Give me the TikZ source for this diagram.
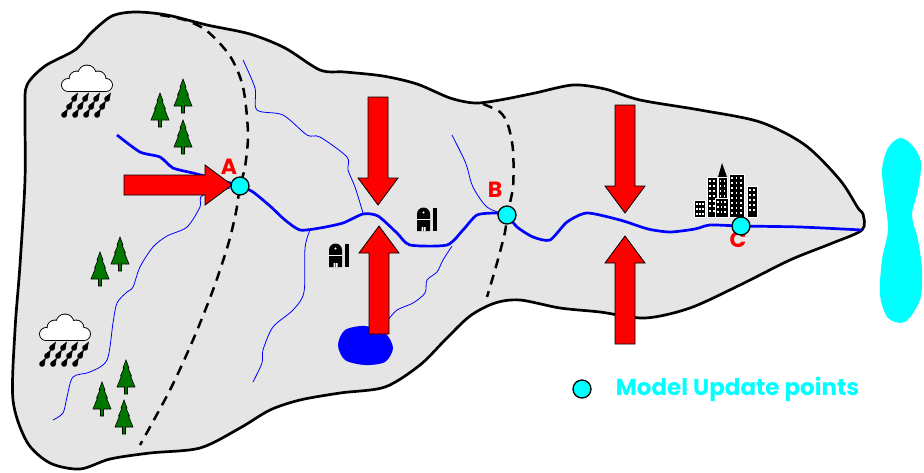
\documentclass[tikz,border=0pt]{standalone}
\usepackage{fontspec}
\newfontfamily\comicfont{Poppins}
\usetikzlibrary{positioning}
\definecolor{aqua}{RGB}{0,255,255}
\definecolor{pine}{RGB}{0,120,0}

\begin{document}
\begin{tikzpicture}[x=1pt,y=-1pt,
basin/.style={fill=gray!20, draw=black, line width=2.7pt},
divide/.style={draw=black, line width=2.5pt, dash pattern=on 10pt off 7pt},
river/.style={draw=blue, line width=2.7pt, line join=round},
creek/.style={draw=blue, line width=0.8pt},
update/.style={circle, draw=black, fill=aqua, line width=1.3pt, minimum size=18pt, inner sep=0pt},
ptname/.style={text=red, inner sep=0pt, font=\comicfont\bfseries\fontsize{22pt}{22pt}\selectfont},
inflow/.pic={\draw[fill=red, line width=0.8pt] (0,0) -- (-27,-20) -- (-27,-10) -- (-108,-10)
    -- (-108,10) -- (-27,10) -- (-27,20) -- cycle;},
tree/.pic={\draw[fill=pine, line width=0.6pt] (0,0) -- (3,8) -- (2,8) -- (5.5,16) -- (4.5,16)
    -- (9,27) -- (1.5,27) -- (1.5,34) -- (-1.5,34) -- (-1.5,27) -- (-9,27) -- (-4.5,16) -- (-5.5,16)
    -- (-2,8) -- (-3,8) -- cycle;},
drop/.pic={\fill (0,0) circle (2.8); \fill (-2.3,-1.6) -- (4,-6.5) -- (2.3,1.6) -- cycle;},
cloud/.pic={
  \foreach \x/\y/\r in {6/-6/6, 15/-12/7.5, 25/-17/8.5, 36/-12/7.5, 44/-6/6}
    \draw[line width=1.8pt] (\x,\y) circle (\r);
  \draw[line width=1.8pt] (6,0) rectangle (44,-10);
  \foreach \x/\y/\r in {6/-6/6, 15/-12/7.5, 25/-17/8.5, 36/-12/7.5, 44/-6/6}
    \fill[white] (\x,\y) circle (\r);
  \fill[white] (6,0) rectangle (44,-10);
  \foreach \r in {0,1,2}
    \foreach \c in {0,1,2,3}
      \pic at ({12+11*\c-5*\r},{8+8*\r}) {drop};},
barn/.pic={
  \fill (0,0) -- (0,-17) arc (180:360:6.5) -- (13,0) -- cycle;
  \fill[white] (6.5,-18.5) circle (1.2);
  \draw[white, line width=1pt] (0,-12) -- (13,-12);
  \fill[white] (4.5,0) rectangle (6.1,-4) (6.9,0) rectangle (8.5,-4);
  \fill (16,0) rectangle (19.5,-23);}]
\useasboundingbox (0,0) rectangle (924,472);

\coordinate (pA) at (240,186);
\coordinate (pB) at (507,215);
\coordinate (pC) at (741,226);

% the catchment
\draw[basin] plot[smooth cycle] coordinates {(27,85) (45,66) (75,50) (92,32) (112,16) (135,12)
  (167,15) (207,25) (250,34) (285,48) (320,70) (345,72) (383,76) (417,84) (450,98) (475,103)
  (500,100) (535,93) (573,85) (605,89) (640,100) (700,110) (760,122) (805,145) (840,180)
  (858,208) (863,214) (862,230) (830,244) (790,260) (740,285) (690,308) (645,318) (600,312)
  (560,308) (520,300) (495,303) (470,316) (445,340) (420,365) (385,387) (340,393) (300,400)
  (270,410) (240,428) (200,448) (150,453) (110,459) (80,469) (50,463) (27,442) (13,400)
  (15,330) (20,265) (25,180) (25,110)};

% sub-basin divides
\draw[divide] plot[smooth] coordinates {(160,15) (185,20) (207,31) (230,56) (243,87) (248,133)
  (245,167) (pA) (236,212) (228,245) (213,290) (193,340) (170,390) (140,445)};
\draw[divide] plot[smooth] coordinates {(483,104) (500,112) (508,125) (513,150) (513,187) (pB)
  (505,232) (497,263) (487,297)};

% tributaries
\draw[creek] plot[smooth] coordinates {(pA) (203,195) (200,207) (187,227) (167,236) (153,247)
  (140,267) (133,287) (127,292) (117,303) (113,323) (107,360) (90,372) (73,377) (67,397)
  (63,413) (53,420)};
\draw[creek] plot[smooth] coordinates {(243,60) (255,88) (257,110) (283,115) (307,135) (320,137)
  (347,157) (348,170) (355,187) (363,213)};
\draw[creek] plot[smooth] coordinates {(310,230) (305,248) (304,292) (293,310) (273,327)
  (263,350) (262,363) (253,382)};
\draw[creek] plot[smooth] coordinates {(452,135) (463,157) (467,167) (473,187) (487,207) (pB)};
\draw[creek] plot[smooth] coordinates {(388,320) (397,310) (413,303) (425,293) (427,280)
  (437,272) (443,260) (452,246)};

% reservoir
\fill[blue] plot[smooth cycle] coordinates {(345,330) (365,326) (385,333) (393,348) (385,362)
  (365,365) (345,360) (338,345)};

% main channel
\draw[river] plot[smooth, tension=0.4] coordinates {(117,135) (140,152) (160,157) (173,168)
  (193,173) (212,178) (pA) (253,192) (270,206) (285,220) (300,230) (320,228) (343,223)
  (363,214) (378,216) (397,233) (410,245) (447,245) (463,230) (477,215) (497,213) (pB)
  (517,227) (533,237) (550,240) (567,222) (587,213) (620,220) (648,229) (670,232) (695,229)
  (710,225) (pC) (800,227) (862,230)};

% land use
\foreach \x/\y in {160/93, 183/79, 183/120, 100/252, 120/237, 126/360, 102/382, 124/400}
  \pic at (\x,\y) {tree};
\pic at (62,91) {cloud};
\pic at (40,340) {cloud};
\pic at (417,231) {barn};
\pic at (329,267) {barn};

% city
\fill (718,177) -- (722,163) -- (727,177) -- cycle;
\foreach \x/\t/\r/\cols in {707/177/717/{710,714}, 718/177/727/{720.5,724.5}, 729/174/744/{732,736.5,741},
    747/186/757/{750,754}, 694/200/705/{697,700,703}, 715/198/728/{718,721.5,725}} {
  \draw[white, fill=black, line width=0.5pt] (\x,\t) rectangle (\r,217);
  \pgfmathsetmacro\ra{\t+4}
  \pgfmathsetmacro\rb{\t+9}
  \foreach \c in \cols
    \foreach \w in {\ra,\rb,...,214}
      \fill[white] (\c-0.8,\w-0.8) rectangle ++(1.6,1.6);
}

% inflows
\pic at (232,185) {inflow};
\pic[rotate=-90] at (378,205) {inflow};
\pic[rotate=90] at (379,226) {inflow};
\pic[rotate=-90] at (625,213) {inflow};
\pic[rotate=90] at (625,236) {inflow};

% update points
\node[ptname] (nameA) at (229,167) {A};
\node[ptname] (nameB) at (495,190) {B};
\node[ptname] (nameC) at (738,240) {C};
\node[update] (A) at (pA) {};
\node[update] (B) at (pB) {};
\node[update] (C) at (pC) {};

% downstream lake
\fill[aqua] plot[smooth cycle] coordinates {(900,138) (912,145) (921,162) (918,190) (912,215)
  (918,240) (922,270) (920,300) (905,322) (888,318) (880,295) (882,260) (888,230) (885,200)
  (882,170) (888,148)};

\node[update] (key) at (582,389) {};
\node[right=24pt of key, text=aqua, inner sep=0pt,
  font=\comicfont\bfseries\fontsize{23pt}{23pt}\selectfont] (keytext) {Model Update points};
\end{tikzpicture}
\end{document}
